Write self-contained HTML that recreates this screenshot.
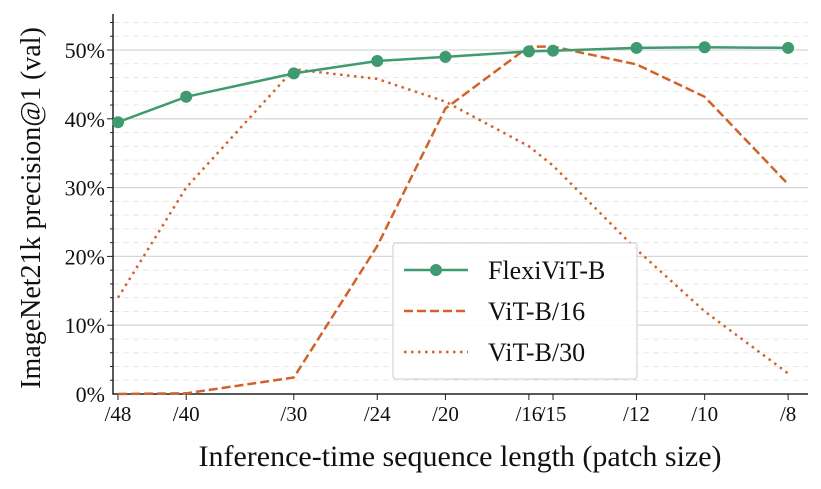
<!DOCTYPE html>
<html><head><meta charset="utf-8"><style>
body{margin:0;background:#fff;}
svg text{font-family:"Liberation Serif",serif;fill:#111;}
</style></head><body>
<svg id="c" width="821" height="484"></svg>
<script>
const patchSizes=[48,40,30,24,20,16,15,12,10,8];
const tickLabels=["/48","/40","/30","/24","/20","/16","/15","/12","/10","/8"];
const flexi=[39.5,43.2,46.6,48.4,49.0,49.8,49.9,50.3,50.4,50.3];
const vit16=[0,0.1,2.4,21.5,41.5,50.5,50.5,47.9,43.2,30.5];
const vit30=[14,30,47.2,45.8,42.5,36,33.2,21,12,3];
const yTicks=[0,10,20,30,40,50];
const NS="http://www.w3.org/2000/svg";
const svg=document.getElementById('c');
function X(p){return 118+374*Math.log(48/p);}
function Y(v){return 394-6.88*v;}
function mk(t,a,parent){const e=document.createElementNS(NS,t);for(const k in a)e.setAttribute(k,a[k]);(parent||svg).appendChild(e);return e;}
const L=113,R=808,T=14,B=394;
for(let v=2;v<=54;v+=2){
 const major=v%10===0;
 const g=mk('line',{x1:L,x2:R,y1:Y(v),y2:Y(v),stroke:major?'#d8d8d8':'#e8e8e8','stroke-width':major?1.3:1,'stroke-dasharray':major?'':'6,4'});
 
 
 const tk=mk('line',{x1:L-(major?6:3),x2:L,y1:Y(v),y2:Y(v),stroke:'#222','stroke-width':1});
 
 
}
yTicks.forEach(v=>{
 const t=mk('text',{x:L-8,y:Y(v)+8,'text-anchor':'end','font-size':22});t.textContent=v+'%';
 
 
});
patchSizes.forEach((p,i)=>{
 const tk=mk('line',{x1:X(p),x2:X(p),y1:B,y2:B+6,stroke:'#222'});
 
 
 const t=mk('text',{x:X(p),y:B+27,'text-anchor':'middle','font-size':21});t.textContent=tickLabels[i];
 
 
});
const ax=mk('path',{d:`M${L},${T}V${B}H${R}`,fill:'none',stroke:'#222','stroke-width':1.5});


function line(vals,color,dash,name){
 const d=vals.map((v,i)=>(i?'L':'M')+X(patchSizes[i]).toFixed(1)+','+Y(v).toFixed(1)).join('');
 const p=mk('path',{d,fill:'none',stroke:color,'stroke-width':2.5,'stroke-dasharray':dash});
 
 
}
line(vit30,'#d0632a','2.5,4.5','vit-b30-line');
line(vit16,'#d0632a','9,4','vit-b16-line');
line(flexi,'#3f9a70','','flexivit-line');
flexi.forEach((v,i)=>{
 const c=mk('circle',{cx:X(patchSizes[i]),cy:Y(v),r:6,fill:'#3f9a70'});
 
 
});
const yl=mk('text',{x:0,y:0,'font-size':28,'text-anchor':'middle',transform:`translate(40,${(T+B)/2+4}) rotate(-90)`});yl.textContent='ImageNet21k precision@1 (val)';


const xl=mk('text',{x:460,y:466,'font-size':30,'text-anchor':'middle'});xl.textContent='Inference-time sequence length (patch size)';


const lg=mk('g',{});


mk('rect',{x:393,y:243,width:244,height:136,rx:3,fill:'rgba(255,255,255,0.9)',stroke:'#ccc'},lg);
const items=[['FlexiViT-B','#3f9a70',''],['ViT-B/16','#d0632a','9,4'],['ViT-B/30','#d0632a','2.5,4.5']];
items.forEach((it,i)=>{
 const y=270+i*41;
 mk('line',{x1:404,x2:468,y1:y,y2:y,stroke:it[1],'stroke-width':2.5,'stroke-dasharray':it[2]},lg);
 if(i===0)mk('circle',{cx:436,cy:y,r:6,fill:it[1]},lg);
 const t=mk('text',{x:488,y:y+9,'font-size':26},lg);t.textContent=it[0];
 
 
});
</script>
</body></html>
